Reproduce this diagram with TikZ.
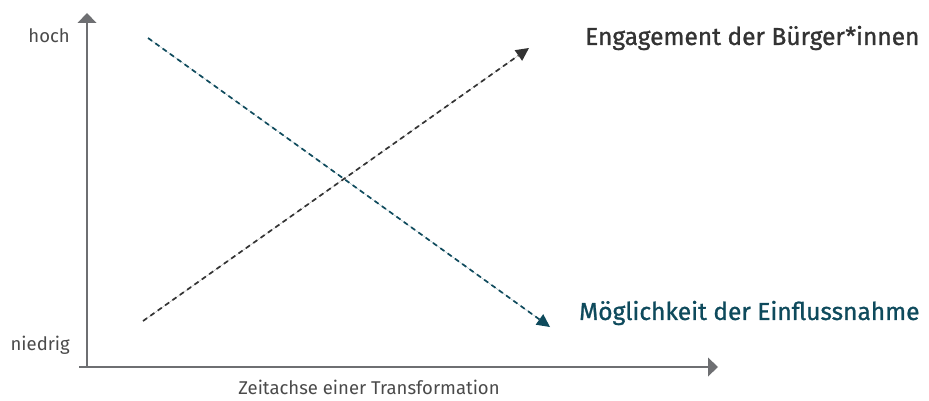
\documentclass[tikz,border=0pt]{standalone}
\usepackage{fontspec}
\setmainfont{Fira Sans}
\newfontfamily\biglabfont[FakeBold=1]{Fira Sans}
\usetikzlibrary{arrows.meta}
\definecolor{axisgray}{HTML}{6E6F72}
\definecolor{labgray}{HTML}{4A4A4A}
\definecolor{darktxt}{HTML}{333333}
\definecolor{teal}{HTML}{0E4A5C}
\tikzset{
  axis/.style={draw=axisgray, line width=1.3pt, -{Triangle[length=10pt,width=19pt,line width=0pt]}},
  dashline/.style={line width=1.7pt, dash pattern=on 5pt off 4pt, -{Triangle[length=13pt,width=13pt,line width=0pt]}},
  smalllab/.style={text=labgray, font=\fontsize{18.5}{22}\selectfont, inner sep=0pt},
  biglab/.style={font=\biglabfont\fontsize{24.5}{29}\selectfont, inner sep=0pt, anchor=west},
}
\begin{document}
\begin{tikzpicture}[x=1pt,y=1pt]
\useasboundingbox (0,0) rectangle (929,400);
\coordinate (ytop) at (87,387);
\coordinate (xleft) at (79,33);
\coordinate (xright) at (718,33);
\coordinate (ybot) at (87,33);
\draw[axis] (ybot) -- (ytop);
\draw[axis] (xleft) -- (xright);
\node[smalllab, anchor=east] (hoch) at (70,364) {hoch};
\node[smalllab, anchor=east] (niedrig) at (70,55) {niedrig};
\node[smalllab] (zeit) at (369,13) {Zeitachse einer Transformation};
\coordinate (ts) at (148,362);
\coordinate (te) at (550,73);
\coordinate (bs) at (143,79);
\coordinate (be) at (529,352);
\draw[dashline, draw=teal, fill=teal] (ts) -- (te);
\draw[dashline, draw=darktxt, fill=darktxt] (bs) -- (be);
\node[biglab, text=darktxt] (eng) at (585,362) {Engagement der Bürger*innen};
\node[biglab, text=teal] (moeg) at (579,87) {Möglichkeit der Einflussnahme};
\end{tikzpicture}
\end{document}
